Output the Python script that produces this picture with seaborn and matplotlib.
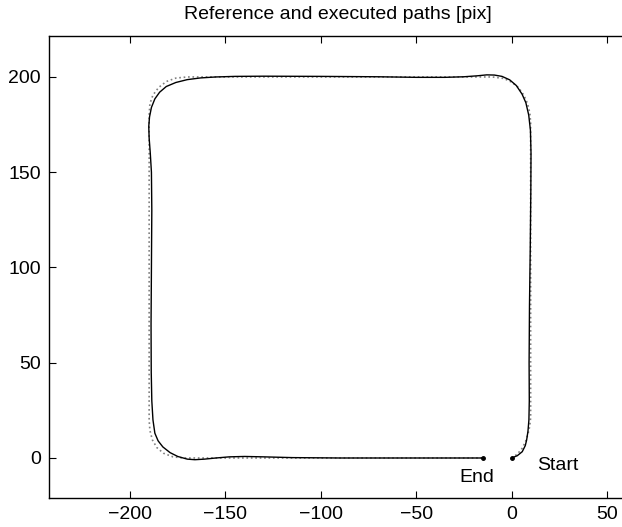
import matplotlib
matplotlib.use("Agg")
import matplotlib.pyplot as plt
import seaborn as sns

# Executed path (solid black), start -> end
exec_x = [0, 3, 5.6, 7.2, 7.9, 8.6, 9.1, 9.3, 9.2, 9.4, 9.8, 10.1, 10.2, 9.9, 9.0,
          7.5, 5.5, 2.5, -1, -5, -9, -13, -18, -25, -35, -50, -70, -100, -130, -145,
          -155, -163, -170, -176, -181, -184.5, -187, -188.8, -189.8, -190.2, -190,
          -189.4, -188.8, -188.6, -188.8, -189, -188.9, -188.6, -188, -187, -185.3,
          -182.8, -179, -175, -170, -166, -161, -155, -148, -140, -130, -115, -90,
          -60, -15]
exec_y = [0, 1.2, 3.3, 6.5, 9.4, 14, 20, 30, 50, 80, 110, 140, 160, 172, 180,
          186.5, 191, 195.5, 198.5, 200.3, 201, 201.1, 200.6, 200.1, 199.8, 199.8,
          200.1, 200.3, 200.4, 200.3, 200.0, 199.5, 198.6, 197.1, 195, 192, 188.5,
          184, 179, 174, 168, 160, 150, 130, 100, 70, 45, 30, 20, 13, 9, 5.8, 2.8,
          0.8, -0.6, -0.9, -0.6, 0, 0.6, 0.8, 0.6, 0.2, 0, 0, 0]

# Reference path (dotted grey)
ref_x = [0, 3, 5.5, 7.3, 8.6, 9.5, 10, 10, 9.6, 8.4, 6.4, 3.6, 0, -4, -10,
         -170, -176, -181, -185, -188, -189.6, -190, -190, -189.6, -188.3, -186,
         -182.5, -177.5, -172, -15]
ref_y = [0, 2, 5, 8.5, 12.5, 16.5, 21, 176, 181, 186, 190.5, 194.5, 197.3,
         199.2, 200, 200, 199.4, 197.6, 194.5, 190.5, 186, 180, 20, 14.5, 9.5,
         5.5, 2.5, 0.6, 0, 0]

start_pt = (0, 0)
end_pt = (-15, 0)
title = "Reference and executed paths [pix]"
xticks = [-200, -150, -100, -50, 0, 50]
yticks = [0, 50, 100, 150, 200]

sns.set_style("white")
plt.rcParams["font.family"] = ["Liberation Sans", "DejaVu Sans"]
plt.rcParams["axes.unicode_minus"] = True
plt.rcParams["text.color"] = "black"
plt.rcParams["xtick.color"] = "black"
plt.rcParams["ytick.color"] = "black"

fig = plt.figure(figsize=(6.22, 5.27), dpi=100)
ax = fig.add_axes([49 / 622, 1 - 498 / 527, 577 / 622, 462 / 527])

sns.lineplot(x=ref_x, y=ref_y, sort=False, estimator=None, ax=ax,
             color="0.5", linestyle=":", linewidth=1.2)
sns.lineplot(x=exec_x, y=exec_y, sort=False, estimator=None, ax=ax,
             color="black", linewidth=1.0)
ax.plot(*start_pt, "o", color="black", markersize=2.5)
ax.plot(*end_pt, "o", color="black", markersize=2.5)

ax.text(13.5, -3.7, "Start", fontsize=14, va="center", ha="left")
ax.text(-27.5, -10.5, "End", fontsize=14, va="center", ha="left")

ax.set_xlim(-242.5, 60)
ax.set_ylim(-21, 221.5)
ax.set_xticks(xticks)
ax.set_yticks(yticks)
ax.tick_params(direction="in", length=5, width=0.8, labelsize=14,
               top=True, bottom=True, left=True, right=False, pad=6)
for s in ax.spines.values():
    s.set_color("black")
    s.set_linewidth(1.0)
ax.spines["right"].set_visible(False)
ax.set_title(title, fontsize=14, pad=12.5)

fig.savefig("out.png", dpi=100)
